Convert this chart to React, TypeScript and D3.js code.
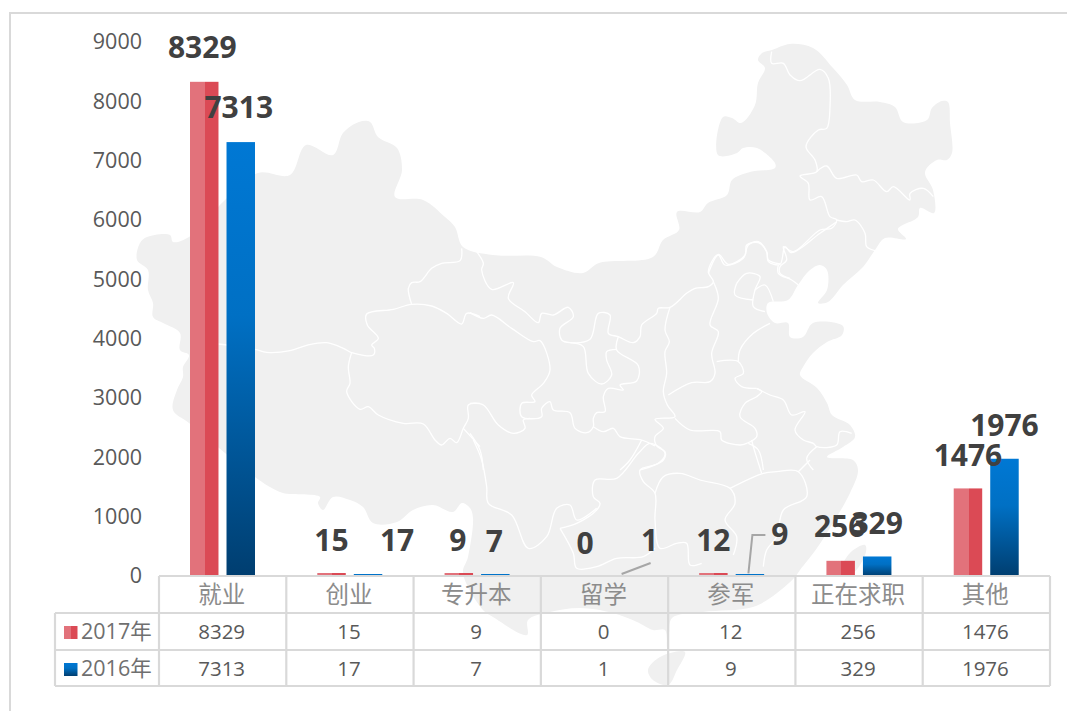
import React, { useEffect, useRef } from 'react';
import * as d3 from 'd3';

const categories = ['就业', '创业', '专升本', '留学', '参军', '正在求职', '其他'];
const series2017 = [8329, 15, 9, 0, 12, 256, 1476];
const series2016 = [7313, 17, 7, 1, 9, 329, 1976];
const yTicks = [0, 1000, 2000, 3000, 4000, 5000, 6000, 7000, 8000, 9000];
const seriesNames = ['2017年', '2016年'];

// hand placed data labels, offset from the top centre of each bar
const labelOffset2017 = [[-2, -24], [0, -24], [-1, -24], [-1, -22], [0, -24], [-1, -24], [0, -22]];
const labelOffset2016 = [[-2, -24], [29, -24], [-1, -24], [27, -25], [30, -30], [0, -22], [0, -23]];

// background map
const mapOutline = [
  [140, 243], [147, 237], [170, 235], [173, 242], [189, 237], [225, 200], [258, 173], [290, 175], [306, 145], [333, 155],
  [343, 133], [359, 122], [370, 122], [378, 137], [397, 148], [402, 170], [395, 197], [423, 200], [445, 217], [455, 227],
  [463, 247], [493, 255], [541, 257], [557, 267], [583, 273], [599, 263], [653, 257], [663, 240], [679, 230], [677, 212],
  [700, 212], [708, 203], [727, 195], [732, 180], [750, 172], [775, 168], [775, 163], [757, 148], [743, 148], [737, 153],
  [718, 155], [723, 117], [732, 118], [741, 123], [755, 105], [758, 83], [765, 68], [758, 60], [762, 53], [772, 50],
  [790, 44], [813, 48], [833, 68], [847, 85], [855, 100], [880, 102], [895, 107], [903, 122], [927, 120], [932, 108],
  [942, 101], [948, 102], [950, 123], [952, 153], [947, 160], [937, 160], [925, 172], [933, 190], [934, 213], [920, 208],
  [918, 217], [898, 229], [906, 239], [885, 238], [875, 250], [863, 267], [843, 285], [828, 302], [818, 303], [827, 290],
  [827, 270], [820, 265], [810, 270], [798, 285], [788, 300], [768, 303], [767, 313], [775, 323], [788, 323], [790, 337],
  [803, 337], [813, 323], [843, 326], [842, 335], [827, 342], [813, 353], [803, 367], [800, 375], [817, 388], [827, 403],
  [832, 415], [850, 425], [855, 437], [843, 447], [827, 457], [853, 460], [858, 470], [850, 493], [833, 523], [817, 548],
  [800, 570], [795, 577], [777, 593], [753, 607], [703, 612], [672, 618], [669, 633], [667, 647], [665, 630], [653, 630],
  [637, 622], [613, 613], [580, 608], [550, 612], [528, 620], [527, 635], [493, 617], [483, 610], [463, 573], [468, 557],
  [473, 518], [470, 508], [462, 503], [453, 512], [433, 505], [413, 510], [397, 522], [373, 523], [363, 507], [350, 500],
  [333, 497], [323, 510], [318, 503], [320, 497], [283, 493], [270, 487], [255, 477], [189, 423], [173, 410], [177, 390],
  [183, 377], [183, 367], [189, 355], [180, 350], [180, 333], [163, 323], [153, 317], [153, 303], [148, 290], [148, 270],
  [137, 260],
];
const mapIslands = [
  [[648, 670], [660, 657], [685, 652], [677, 670], [668, 685], [653, 680]],
  [[865, 545], [850, 553], [840, 573], [853, 573], [866, 552]],
];

// province lines, each list is in its own crop: origin then x,y pairs at 3x
const mapBorders: [number, number, string][] = [
  [130, 220, '265,372 375,388 410,397 480,392 530,376 590,368 640,385 665,398 730,405 733,385 725,375 745,355 712,315 710,282 790,268 845,253 905,258 950,280 995,312 1010,280 1050,290'],
  [130, 220, '845,253 835,205 845,188 870,185 905,145 935,130 990,122 995,85'],
  [130, 220, '665,398 655,440 660,490 650,515 690,568 715,560 745,585 820,610 880,612 915,660 935,675 960,655 980,668 1000,625 1015,595 1015,555 1050,550'],
  [130, 220, '1000,625 1050,680'],
  [470, 220, '20,95 40,130 35,150 65,208 130,188 115,235 165,275 205,308 215,280 250,285 295,262 310,290 270,325 275,360 300,368 360,358 385,280 420,285 415,340 445,350 490,368 510,350 515,315 560,280 565,265 600,262 650,220 675,205 715,200 730,185 715,155 745,103 775,133 825,105 830,75 865,68 890,95 895,125 930,133 945,80 965,98 1050,40 1100,5'],
  [470, 220, '0,278 40,295 65,285 125,325 190,365 210,362 240,450 220,490 185,525 195,545 155,550 155,590 215,590 215,565 240,545 250,570 300,578 315,625 350,638 370,620 370,595 380,578 405,575 400,530 415,505 460,510 450,495 500,483 505,437 440,390 445,350'],
  [470, 220, '300,368 340,380 355,460 395,492 425,465 410,420 410,395 440,388'],
  [470, 220, '600,262 585,330 598,365 585,395 590,460 580,515 592,555 615,590 555,598 580,625 555,650 560,678 585,695 580,720 510,750'],
  [470, 220, '730,185 745,235 720,315 745,335 725,400 735,460 720,485 665,488 595,525'],
  [470, 220, '740,425 805,425 820,460 795,475 815,500 860,505'],
  [470, 220, '805,425 810,390 850,340 900,310'],
  [470, 220, '800,190 830,160 870,170 855,210 850,260 885,275'],
  [470, 220, '800,190 795,225 850,240'],
  [470, 220, '855,210 885,195 910,245'],
  [470, 220, '925,135 925,160 965,180 985,195'],
  [470, 220, '615,595 660,630 750,635 755,660 810,675 830,670 860,650 855,625 810,590 825,550 860,530 875,515 860,505'],
  [470, 220, '860,505 900,525 940,540 965,585 1005,575 975,630 1000,660 1030,670 1040,680 1100,675 1110,635 1145,640'],
  [470, 220, '835,670 865,690 880,750'],
  [470, 220, '370,620 400,635 430,625 450,650 515,660 555,678'],
  [470, 220, '515,660 480,720 450,750'],
  [470, 220, '0,550 40,555 85,615 130,640 165,625 160,600 180,595'],
  [470, 220, '0,640 30,690 40,750'],
  [470, 220, '1040,680 1010,715 1030,750'],
  [700, 40, '215,35 215,70 250,70 270,105 300,122 360,88 385,115 390,200 380,265 355,270 318,320 345,360 350,395 300,408 325,430 330,480 365,470 390,530 410,540 395,565 360,570 280,635 250,620 260,660 240,680 240,700 270,715'],
  [700, 40, '350,395 380,378 410,415 470,405 485,425 520,420 560,455 580,440 630,480 630,460 670,445 700,470'],
  [700, 40, '410,540 440,545 465,540 495,580 500,620 525,632'],
  [700, 40, '25,700 55,645 75,675 130,655 145,615 175,605 200,635 205,660 240,672'],
  [400, 440, '220,0 245,60 260,140 265,190 335,225 385,325 440,290 470,205 510,195 530,240 590,205'],
  [400, 440, '480,265 530,250 590,210 600,190 580,170 585,120 650,115 715,40 750,10 795,40 775,70 720,90 730,125 765,160 765,240 780,325 830,310 860,310 870,375 905,370'],
  [400, 440, '765,160 790,110 840,100 900,120 990,145 1005,190 975,240 1010,290 1000,345'],
  [400, 440, '990,145 1090,100 1130,95 1195,95 1220,170 1150,210 1130,290 1100,330 1090,380'],
  [400, 440, '1195,95 1230,60'],
  [400, 440, '1085,100 1060,20 1055,0'],
  [400, 440, '480,265 520,340 530,385 590,380 650,355 730,350 765,325'],
];

const latin = '"Open Sans", sans-serif';
const cjk = '"Noto Sans CJK SC", sans-serif';

const App = () => {
  const chartRef = useRef<SVGSVGElement>(null);

  useEffect(() => {
    const svg = d3.select(chartRef.current);
    svg.selectAll('*').remove();

    const defs = svg.append('defs');
    const blue = defs.append('linearGradient').attr('id', 'blue').attr('x1', 0).attr('y1', 0).attr('x2', 0).attr('y2', 1);
    blue.append('stop').attr('offset', '0').attr('stop-color', '#0078d4');
    blue.append('stop').attr('offset', '0.4').attr('stop-color', '#0070c4');
    blue.append('stop').attr('offset', '1').attr('stop-color', '#003e70');
    const red = defs.append('linearGradient').attr('id', 'red').attr('x1', 0).attr('y1', 0).attr('x2', 1).attr('y2', 0);
    red.append('stop').attr('offset', '0').attr('stop-color', '#e2727b');
    red.append('stop').attr('offset', '0.52').attr('stop-color', '#e2727b');
    red.append('stop').attr('offset', '0.52').attr('stop-color', '#db4a55');
    red.append('stop').attr('offset', '1').attr('stop-color', '#db4a55');

    // frame
    svg.append('path')
      .attr('d', 'M10,711V13H1067')
      .attr('fill', 'none')
      .attr('stroke', '#d9d9d9')
      .attr('stroke-width', 2);

    // map
    const outline = d3.line().curve(d3.curveCatmullRomClosed);
    const map = svg.append('g');
    map.append('path').attr('d', outline(mapOutline as any)).attr('fill', '#f0f0f0');
    mapIslands.forEach(island => {
      map.append('path').attr('d', outline(island as any)).attr('fill', '#f0f0f0');
    });
    const borderLine = d3.line().curve(d3.curveCatmullRom);
    mapBorders.forEach(([ox, oy, pts]) => {
      const points = pts.split(' ').map(p => {
        const [a, b] = p.split(',').map(Number);
        return [ox + a / 3, oy + b / 3];
      });
      map.append('path')
        .attr('d', borderLine(points as any))
        .attr('fill', 'none')
        .attr('stroke', '#fff')
        .attr('stroke-width', 1.3);
    });

    const left = 159;
    const right = 1050;
    const x = d3.scaleBand().domain(categories).range([left, right]);
    const y = d3.scaleLinear().domain([0, 9000]).range([576, 42]);
    const inner = d3.scaleBand().domain(seriesNames).range([31, 96]).paddingInner(0.22);

    const yAxis = svg.append('g')
      .attr('transform', 'translate(148,0)')
      .call(d3.axisLeft(y).tickValues(yTicks).tickFormat(d3.format('d')).tickSize(0).tickPadding(6));
    yAxis.select('.domain').remove();
    yAxis.selectAll('text')
      .attr('font-family', latin)
      .attr('font-size', 21.5)
      .attr('fill', '#595959');

    // bars and labels
    const seriesData = [
      { name: seriesNames[0], values: series2017, fill: 'url(#red)', offsets: labelOffset2017, sliver: 3 },
      { name: seriesNames[1], values: series2016, fill: 'url(#blue)', offsets: labelOffset2016, sliver: 2 },
    ];
    // the tiny bars still show as a sliver above the table line, 0 and 1 do not
    const barTop = (d: number, sliver: number) => (d > 1 && d < 30 ? y(0) - sliver : y(d));
    seriesData.forEach(s => {
      svg.append('g')
        .selectAll('rect')
        .data(s.values)
        .enter().append('rect')
        .attr('x', (d, i) => x(categories[i])! + inner(s.name)!)
        .attr('y', d => barTop(d, s.sliver))
        .attr('width', inner.bandwidth())
        .attr('height', d => y(0) - barTop(d, s.sliver))
        .attr('fill', s.fill);
    });
    // leader lines sit under the labels
    const barX = (name: string, i: number) => x(categories[i])! + inner(name)! + inner.bandwidth() / 2;
    svg.append('path')
      .attr('d', `M${barX(seriesNames[1], 3) - 1},${y(1) - 2}l29,-11`)
      .attr('fill', 'none').attr('stroke', '#a6a6a6').attr('stroke-width', 2);
    svg.append('path')
      .attr('d', `M${barX(seriesNames[1], 4) - 1.5},${y(9) - 2}L${barX(seriesNames[1], 4) + 2.5},535h13`)
      .attr('fill', 'none').attr('stroke', '#a6a6a6').attr('stroke-width', 2);

    seriesData.forEach(s => {
      svg.append('g')
        .selectAll('text')
        .data(s.values)
        .enter().append('text')
        .attr('x', (d, i) => barX(s.name, i) + s.offsets[i][0])
        .attr('y', (d, i) => y(d) + s.offsets[i][1])
        .attr('text-anchor', 'middle')
        .attr('font-family', latin)
        .attr('font-weight', 700)
        .attr('font-size', 30)
        .attr('fill', '#404040')
        .text(d => d);
    });

    // data table
    const rows = [576, 613, 650, 686];
    const table = svg.append('g').attr('stroke', '#d9d9d9').attr('stroke-width', 2.2).attr('fill', 'none');
    table.append('path').attr('d', `M${left},${rows[0]}H${right}`);
    rows.slice(1).forEach(r => table.append('path').attr('d', `M55,${r}H${right}`));
    table.append('path').attr('d', `M55,${rows[1]}V${rows[3]}`);
    [...categories.map(c => x(c)!), right].forEach(v => {
      table.append('path').attr('d', `M${v},${rows[0]}V${rows[3]}`);
    });

    svg.append('g')
      .selectAll('text')
      .data(categories)
      .enter().append('text')
      .attr('x', d => x(d)! + x.bandwidth() / 2 - 1)
      .attr('y', 603)
      .attr('text-anchor', 'middle')
      .attr('font-family', cjk)
      .attr('font-size', 23.5)
      .attr('fill', '#8c8c8c')
      .text(d => d);

    seriesData.forEach((s, r) => {
      const base = rows[r + 1] + 26;
      svg.append('g')
        .selectAll('text')
        .data(s.values)
        .enter().append('text')
        .attr('x', (d, i) => x(categories[i])! + x.bandwidth() / 2 - 1)
        .attr('y', base)
        .attr('text-anchor', 'middle')
        .attr('font-family', latin)
        .attr('font-size', 20.5)
        .attr('fill', '#595959')
        .text(d => d);
      svg.append('rect')
        .attr('x', 64)
        .attr('y', rows[r + 1] + 13)
        .attr('width', 13.5)
        .attr('height', 13)
        .attr('fill', s.fill);
      svg.append('text')
        .attr('x', 81)
        .attr('y', base)
        .attr('font-family', `"Open Sans", ${cjk}`)
        .attr('font-size', 21.5)
        .attr('fill', '#6f6f6f')
        .text(s.name);
    });
  }, []);

  return (
    <svg
      ref={chartRef}
      width={1067}
      height={711}
      style={{ position: 'absolute', left: 0, top: 0, background: '#fff' }}
    ></svg>
  );
};

export default App;
